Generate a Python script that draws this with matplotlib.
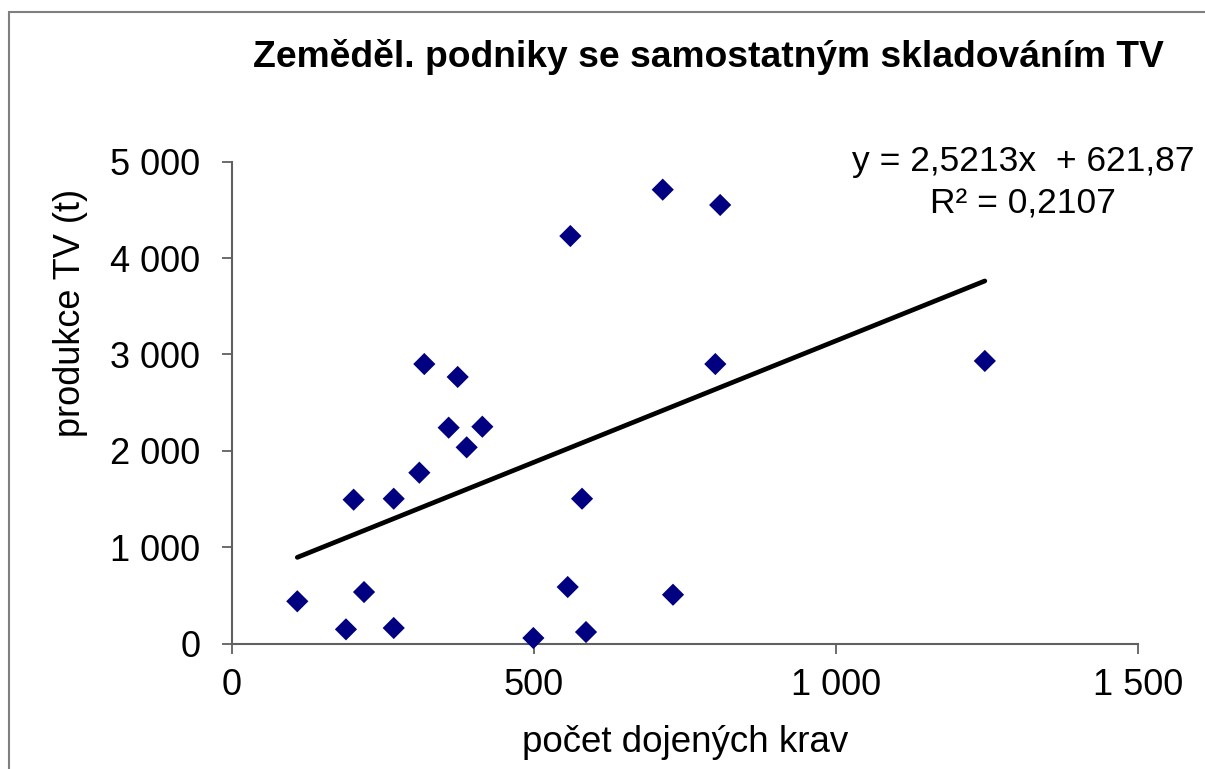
import matplotlib
matplotlib.use("Agg")
import matplotlib.pyplot as plt
from matplotlib.ticker import FuncFormatter, FixedLocator
from matplotlib.patches import Rectangle
import numpy as np

plt.rcParams['font.family'] = ['Liberation Sans', 'DejaVu Sans']

# Data
cows = [108.5, 189, 218.9, 201.7, 268, 268, 310.4, 318.6, 358.9, 373.8, 388.7,
        414.6, 499, 555.8, 560.2, 579.5, 586.1, 713, 730, 800, 808, 1245.8]
production = [440, 149, 536, 1494, 1504, 163, 1774, 2901, 2241, 2767, 2037,
              2251, 59, 588, 4229, 1504, 121, 4710, 508, 2901, 4551, 2933]
slope = 2.5213
intercept = 621.87
r2 = 0.2107

title = "Zeměděl. podniky se samostatným skladováním TV"
xlabel = "počet dojených krav"
ylabel = "produkce TV (t)"
xticks = [0, 500, 1000, 1500]
yticks = [0, 1000, 2000, 3000, 4000, 5000]

W, H = 1205, 769
fig = plt.figure(figsize=(W / 100, H / 100), dpi=100)

# outer frame of the chart area
fig.patches.append(Rectangle((9 / W, -0.05), 1.2, (H - 12) / H + 0.05,
                             transform=fig.transFigure, fill=False,
                             edgecolor='#7f7f7f', linewidth=1.5))

left, right, top, bottom = 231.7, 1138.5, 161.7, 643.7
ax = fig.add_axes([left / W, (H - bottom) / H, (right - left) / W, (bottom - top) / H])

ax.scatter(cows, production, marker='D', s=11.3 ** 2, color='#000080',
           edgecolors='none', zorder=3, clip_on=False)

xs = np.array([min(cows), max(cows)])
ax.plot(xs, slope * xs + intercept, color='black', linewidth=3.4, zorder=2,
        solid_capstyle='round')

ax.set_xlim(0, 1500)
ax.set_ylim(0, 5000)
ax.xaxis.set_major_locator(FixedLocator(xticks))
ax.yaxis.set_major_locator(FixedLocator(yticks))
fmt = FuncFormatter(lambda v, p: f"{int(v):,}".replace(",", " "))
ax.xaxis.set_major_formatter(fmt)
ax.yaxis.set_major_formatter(fmt)

for s in ['top', 'right']:
    ax.spines[s].set_visible(False)
for s in ['left', 'bottom']:
    ax.spines[s].set_color('#606060')
    ax.spines[s].set_linewidth(1.5)
ax.tick_params(axis='both', direction='out', length=7.5, width=1.3,
               color='#606060', labelsize=26, labelcolor='black')
ax.tick_params(axis='x', pad=10)
ax.tick_params(axis='y', pad=15)

fig.text(685 / W, 1 - 742 / H, xlabel, ha='center', va='center', fontsize=26.5)
fig.text(70 / W, 1 - 313 / H, ylabel, ha='center', va='center', rotation=90,
         fontsize=26)
fig.text(708 / W, 1 - 57 / H, title, ha='center', va='center', fontsize=26.8,
         fontweight='bold')

eq1 = f"y = {slope:.4f}x  + {intercept:.2f}".replace(".", ",")
eq2 = f"R² = {r2:.4f}".replace(".", ",")
fig.text(1023 / W, 1 - 170.7 / H, eq1, ha='center', va='baseline', fontsize=25.5)
fig.text(1023 / W, 1 - 213.3 / H, eq2, ha='center', va='baseline', fontsize=25.5)

fig.savefig("out.png", dpi=100)
